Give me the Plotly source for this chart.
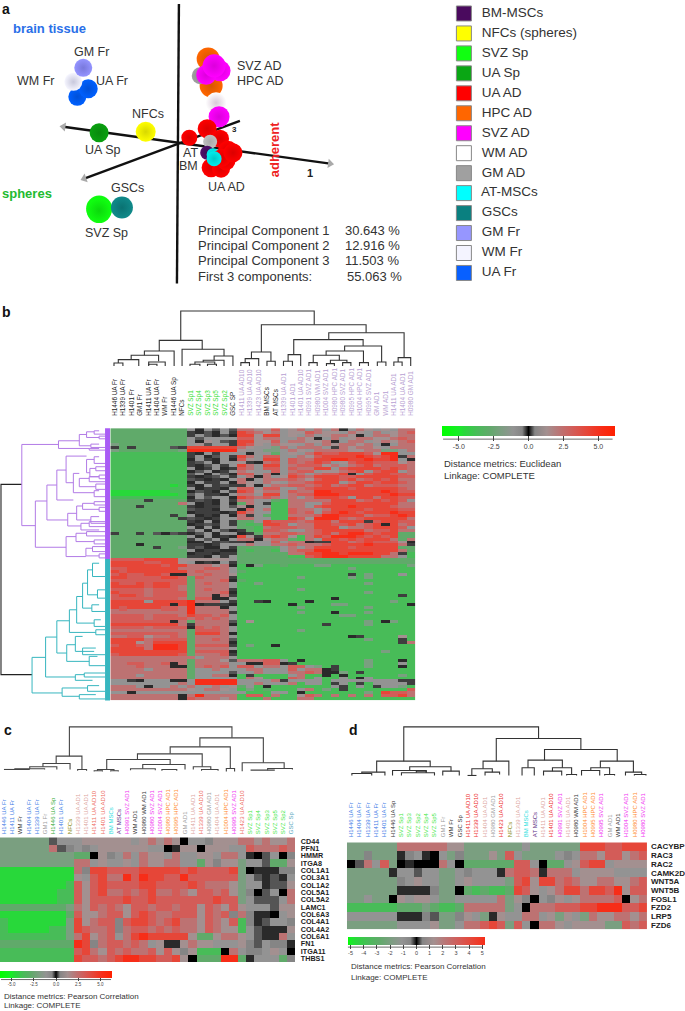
import plotly.graph_objects as go

FONT = "Liberation Sans, Arial, sans-serif"
W, H = 685, 1011

# ---------- panel a: PCA spheres ----------
pca_axis_1 = [(64, 126), (333, 163)]
pca_axis_2 = [(85, 178), (242, 120)]
pca_axis_3 = [(180.5, 3), (178.5, 283)]
sphere_x = [78, 89, 74, 84, 100, 147, 100, 100, 123,
            210, 213, 202, 222, 208, 216, 218, 221,
            191, 209, 222, 230, 213, 223, 228, 212, 209, 215, 224, 235, 216]
sphere_y = [96, 88, 81, 67, 132, 131, 208, 210, 207,
            58, 85, 75, 70, 74, 65, 102, 116,
            137, 128, 138, 150, 167, 168, 160, 141, 152, 154, 157, 152, 158]
sphere_size = [18, 19, 18, 18, 19, 20, 26, 25, 22,
               23, 23, 17, 21, 20, 23, 21, 21,
               16, 19, 18, 20, 19, 18, 19, 14, 14, 13, 18, 19, 15]
sphere_color = ["#0060ff", "#0060ff", "#f6f6ff", "#9494ff", "#0aa010", "#ffff00", "#10ff10", "#10ff10", "#108a8a",
                "#ff6600", "#ff6600", "#a0a0a0", "#ff00ff", "#ff00ff", "#ff00ff", "#ffffff", "#ff00ff",
                "#ff0000", "#ff0000", "#ff0000", "#ff0000", "#ff0000", "#ff0000", "#ff0000", "#c0c0c0", "#50106a", "#00eeee", "#ff0000", "#ff0000", "#00eeee"]
sphere_edge = ["#0050d8", "#0050d8", "#c8c8dc", "#7878dc", "#078a0c", "#d8d800", "#0cd80c", "#0cd80c", "#0a7272",
               "#d85600", "#d85600", "#888888", "#dc00dc", "#dc00dc", "#dc00dc", "#d8c8d8", "#dc00dc",
               "#dc0000", "#dc0000", "#dc0000", "#dc0000", "#dc0000", "#dc0000", "#dc0000", "#a8a8a8", "#3c0c54", "#00c8c8", "#dc0000", "#dc0000", "#00c8c8"]

legend_names = ["BM-MSCs", "NFCs (spheres)", "SVZ Sp", "UA Sp", "UA AD", "HPC AD", "SVZ AD",
                "WM AD", "GM AD", "AT-MSCs", "GSCs", "GM Fr", "WM Fr", "UA Fr"]
legend_colors = ["#4a0a5e", "#ffff00", "#11ff11", "#0aa614", "#ff0000", "#ff6600", "#ff00ff",
                 "#ffffff", "#a0a0a0", "#00ffff", "#0a8080", "#9696ff", "#f4f4ff", "#0860ff"]

pca_stat_names = ["Principal Component 1", "Principal Component 2", "Principal Component 3", "First 3 components:"]
pca_stat_values = ["30.643 %", "12.916 %", "11.503 %", "55.063 %"]

# ---------- panel b ----------
b_cols = ["H1446 UA Fr", "H1339 UA Fr", "H1401 Fr", "GM1 Fr", "H1411 UA Fr", "H1404 UA Fr", "WM Fr", "H1446 UA Sp", "NFCs",
          "SVZ Sp1", "SVZ Sp4", "SVZ Sp3", "SVZ Sp5", "SVZ Sp2", "GSC SP",
          "H1411 UA AD10", "H1339 UA AD10", "H1423 UA AD10", "BM MSCs", "AT MSCs",
          "H1339 UA AD1", "H1401 AD1", "H1401 UA AD10", "H0991 SVZ AD1", "H0980 WM AD1", "H1004 SVZ AD1",
          "H0980 HPC AD1", "H0980 SVZ AD1", "H0995 HPC AD1", "H1004 HPC AD1", "H0995 SVZ AD1", "GM AD1", "WM AD1",
          "H1411 UA AD1", "H1404 UA AD1", "H0980 GM AD1"]
LIL = "#b79fd2"
b_col_colors = ["#222222"] * 9 + ["#33e033"] * 5 + ["#333333"] + [LIL] * 3 + ["#222222"] * 2 + [LIL] * 16

# level codes, one string per heat-map row
b_rows = [
 "hhhhhhhhh .d.m. m rrp ps. pr. r.rd.rp. p. rrr",
 "hhhhhhhhh kdmd. k tsr pr. pps rpp.rp.r .p rsr",
 "hhhhhhhhh k.mdm d ttp tt. p.r .prrpd.r rp rrs",
 "hhhhhhhhh .m... . ssp rr. .rp d.r.prrp pr srr",
 "hhhhhhhhh .dp.m k ttp ps. rrp prd.rr.p rp rs.",
 "ihhhhhhhh .pm.. k tsp .rp p.r .rprrpr. d. rrp",
 "khkhhhhmk ttttt t rp. .ir .rr r.krprrp .r rrd",
 "ihhhhhhhi RRRRR R p.. ii. rp. rrrrpprr ii .rr",
 "ggggggggg kd.k. . .d. .h. p.r tsstttsp RR ..d",
 "ggggggggg k.dm. k tr. ss. .rp sttttRts tR krr",
 "ggggggggg d.kd. d sp. tt. srr ttRRttRt tR .dh",
 "ggggggggg km.d. . pkd rs. srs ts.pstts ss prr",
 "ggggggggg kdm.k . tr. tt. rss spr.rstr ss srr",
 "ggggggggg .dk.d k sr. ss. srr tt.stttt st srp",
 "ggggggggg dm.dk . rp. .s. rss .pprst.s tt .rd",
 "ggggggggg m.d.m d ss. rd. sr. rsstd.st ts sr.",
 "ggggggggg kdkm. k .rd r.p tsr tttssttt tt ssr",
 "ggggggggg mkdkd . rd. rrr srp sttstrst st rrd",
 "ggggggggg d.kk. d rp. rp. rrs ttt.rtts tt srp",
 "gggggggGg kd.km k kpd .rr ssr strsttrs ss rrr",
 "ggggggggg .dkkd . ss. ss. .rs ttttsttt tt srd",
 "GGGGGGGgg dmkd. k tsp rr. srr RRtttttt Rt sss",
 "GGGGGGGGg m.kkd . rr. tt. rss RRRttttt tR ttt",
 "ggggggggg d.m.. d tsr sr. r.r ttts.ttr tt ssr",
 "hhhhkhhhh kmkd. k rr. .hg rrr rrtttrst st s.d",
 "hhhhhhhhr .dkd. d hr. kgg rr. .stttttt tt rr.",
 "hhhkhhhhh kdkk. m pd. .gg rr. stttRttt ts rrs",
 "hhhhhhhhh mkkd. . ds. rgg srr .rttttst tt ss.",
 "hhhhhhhhh dkkkd k tr. .gg srs .stRtstt tR ttt",
 "hhhhhhhkh .dkd. d rk. hgg rrr sRRtttrs st Rtt",
 "hhhhhhhhk mkdk. . rr. .gg tsp RRRsrstt tt trt",
 "hhhhhhhhh kd.d. k hh. tss srs ttrtttks tt ssh",
 "hhhhhhhhh dkmk. k hgh tts .rr ttsstrst dt rsg",
 "hhhhhhhhh .d.d. . hhg rss srr ttt.rrst tt s.g",
 "hhhhhhhhh m.d.m d khg ssr ..r stttttrs st rrh",
 "khhkhmdmk dm.d. . dkh rrs srr strtRRts tt hhd",
 "hhhhhhhhh .d.dk d tpk sts pgr tsRRRtst st hh.",
 "hhhhhhhhh k.m.d . rrd prr hgr .ttststt tr hrk",
 "hhhhhhhhh dd.km k kd. .s. rrd kkttrsts ss pd.",
 "hhhdhhhhh kkdk. . .r. .rr srr rsttttRt tt rkh",
 "hhhhhkhhi kmdd. k hhh hh. r.r ttttsttt tt hhs",
 "hhhhhhhhh .dkkd d hgh hg. rss RRtttttt tt rhr",
 "hhhhhhhhh dkkdk k hhh hhh rrt tRRtRRRt tr kgr",
 "hhhhhhhhh kkd.k . hhh hhh ggs tRRRtttt rr .gr",
 "ssssttttp ppppp . hhh hhh hhh hhhhhhhh hh hhh",
 "ttttssttp .dkd. k hhh hhh hhh hhhhhhhh hh hhh",
 "ttttttstt rrrpr d gdi ggh ggg iigggggg gg gig",
 "ssttttttr rrssr . ggg ggg ggg ggggiggg gg ggg",
 "tsttttttt rsrrr . hgg ggg ggg gggggggg gg ggg",
 "stssttsdd rrsrr p ggg ggg ggg ggggkgig gg .gi",
 "ttsssstts hsrrr k ggg ggg gig ggggigig gg ggg",
 "sssssssss hrrrs d hgg ggg ggg gggggggg gg ggg",
 "tsststtss hrsrr . ggi ggg ggg ggggggig gg ggg",
 "ttttsttsr hrrrr . ggg ggg ggg gggggggg gg ggg",
 "ssssrsssr hrsrr k ggg ggg gig gggggggg gg ggg",
 "tsssrssss hrrrs d ggg ggg ggg ggggggig gg ggg",
 "sttsrssss hrrdr k ggg ggg ggg gggggggg gg kgd",
 "ssssssssr hssdd . ggg ggg ggg ggdggggg gg ggd",
 "tttt.tttt Rrrr. k ggk dgg ggd gggggggg gi ggg",
 "tttttttdt Rdkkk d ggg ggg dgg ggiigggg gg gdg",
 "tsttttssr Rrrrd . ggg ggg gig ggggggig gg ggg",
 "rsrrrrssr Rrrrr . ggg ggg ggg gggggggg gg ggg",
 "rrrrrrrrr Rrrrr k ggg ggg gig ggdgggig gg ggg",
 "ssssrsssr tssrs . ggg ggg ggg gggiiggg gg ggg",
 "ssssrssss rsrsr . ggg ggg ggg gggggggg gg ggg",
 "sssssssdr hrrrr m gpg ggg ggg ggggggig di ggg",
 "ttttttttr krrrr d ggg ggg ggg gkggggig gg ggg",
 "ssssrssss dsrsr . ggg ggg ggg gggggggg gg ggg",
 "rrrrrrrrr hsssr . ggg ggg gig gggggggg gg ggg",
 "ssssssssr htttr d ggg ggg ggg gggggggg gg ggg",
 "rrssprrsr hrrrr . ggg ggg ggg ggggdkgg gg pgg",
 "ttttrssss hrrsr m ggg ggg ggg ggggggig gg kgg",
 "tttprtttt hrrrr d ggg ggg ggg gggggggg gg krr",
 "sttsrRRRt hssss k gig gdg ggg gggggggg gg ggg",
 "ttttrRRRt hrrrr . ggg ggg ggg gggggggg gg ggg",
 "ttttttttt hssss d ggg ggg ggg gggggggg ig ggg",
 "sttttttts hrrrs k ggg ggg ggg gggggggg gg ggi",
 "rrrrrrrrr r.rrr . ggg ggg ggg gggggggg gg ggg",
 "rrrrrrrrr hrrrp m rrr ss. gdg ggggggig gg dgg",
 "rrssrrsdr hrrrr . .dd ssd kgg ggggggig gg .gg",
 "rrrsrrrdd hrsrs . ss. rr. ss. igkgggig gg dgg",
 "rrrr.rrrr h..r. . .rr ... s.r rdkggggg gg ggg",
 "rrrrrrrrr h.... m ..r ... rrs rddigkgg gg ggg",
 "rrr.rrrrr h..rr d gkg ggg .rg gdgdgggg gg igg",
 "rrrrrrrrr h.... . grp ggg srg .gg.gd.g gg ggg",
 "..kd...dd .RRRR R ... .rk ... .g...... .. kk.",
 "........r .RRRR R ..r ... rg. .gk.gkg. .. .kd",
 "rrr.d..r. r..r. p h.g dgg ggg gg.kg.gk .. igr",
 "rrrrrrrrr p.rrp . gig hgg g.r gigkgggg gg gsg",
 "..d...... ..... . .gg g.. gdg ggggggig ts srp",
 "rrrrrrrrd rRrrr r gss grg gps rgrgrgrg ss trr",
 "rrrrrrrrd srrrp r ggg rgg grr gggggggg gg ggg",
]

# ---------- panel c ----------
c_cols = ["H1446 UA Fr", "H1411 UA Fr", "WM Fr", "H1404 UA Fr", "H1339 UA Fr", "GM1 Fr", "H1446 UA Sp", "H1401 UA Fr", "NFCs",
          "H1339 UA AD1", "H1401 UA AD1", "H1411 UA AD10", "H1401 UA AD10", "BM MSCs", "AT MSCs",
          "H0991 SVZ AD1", "WM AD1", "H0980 WM AD1", "H0980 SVZ AD1", "H1004 SVZ AD1", "H0980 HPC AD1", "H0995 HPC AD1",
          "GM AD1", "H1411 UA AD1", "H1339 UA AD10", "H0980 GM AD1", "H1404 UA AD1", "H1004 HPC AD1", "H0995 SVZ AD1", "H1423 UA AD10",
          "SVZ Sp1", "SVZ Sp4", "SVZ Sp3", "SVZ Sp5", "SVZ Sp2", "GSC Sp"]
BLU, BLK, GRY, GRN, OLV = "#3d7be6", "#333333", "#a0a0a0", "#33aa33", "#8a8a10"
SAL, COR, CYA, PUR, MAG, ORG, LGN, TEL = "#dda79f", "#ee6a60", "#2fe0e0", "#5a2a80", "#f030f0", "#ff8c30", "#44e844", "#5aa8c0"
c_col_colors = [BLU, BLU, BLK, BLU, BLU, GRY, GRN, BLU, OLV, SAL, SAL, COR, COR, CYA, PUR, MAG, BLK, BLK, MAG, MAG, ORG, ORG,
                GRY, SAL, COR, GRY, SAL, ORG, MAG, COR, LGN, LGN, LGN, LGN, LGN, TEL]
c_genes = ["CD44", "PFN1", "HMMR", "ITGA8", "COL1A1", "COL3A1", "COL1A2", "COL5A1", "COL5A2", "LAMC1",
           "COL6A3", "COL4A1", "COL4A2", "COL6A1", "FN1", "ITGA11", "THBS1"]
c_rows = [
 "iiiiiim.. .pppppp.prprpk..npppr rprppr",
 "iiiiiirmn .n.pppppp..kdppkppp.. srrrsr",
 "iiiiiiiii hhkpn.r.rpp.r..pp.rr. dkm.kn",
 "iiiiiiiii rr.p..p.rpprr..hpnppi ..mhhp",
 "GGGGGGGGG rnttsssstttttstssssti kdddnn",
 "GGGGGGGGG p.strrRsRttssRssssssi .mdmd.",
 "GGGGGGGGg spstssssttsssstsrrrpi ..dmmp",
 "GGGGGGGgg spstrrsrstrrsrpssrspi nkm.kr",
 "GGGGGGGgg spsssstsstssssssstssi .mmm.r",
 "hhhhhhhhi rpsrsrpssrssrsspsrpsp ...mpp",
 "GGGGGGGGh spprsspstsrrssspsrsnr nddk.p",
 "gGGGGGGGi tprssnsttsrstrrpsrpsg ndm..n",
 "gGGGGGggi tsrrsnrssrsrsrrpsrppg .mdddp",
 "ggggggggi rtprs.rtRtttttphhprrp .mddr.",
 "hhhhhhhhh Rtnrssrsr.pddprpp...p nm.nnd",
 "ggggggggg strpsrsrrspspnpgggkr. nn.p.k",
 "ggggggggg tssrstRRttsstpkhhhRRh d...hn",
]

# ---------- panel d ----------
d_cols = ["H1446 UA Fr", "H1404 UA Fr", "H1339 UA Fr", "H1411 UA Fr", "H1401 UA Fr", "H1446 UA Sp",
          "SVZ Sp1", "SVZ Sp3", "SVZ Sp2", "SVZ Sp4", "SVZ Sp5", "GM1 Fr", "WM Fr", "GSC Sp",
          "H1411 UA AD10", "H1339 UA AD10", "H1404 UA AD1", "H0980 GM AD1", "H1423 UA AD10", "NFCs",
          "H1339 UA AD1", "BM MSCs", "AT MSCs", "H1411 UA AD1", "H1401 UA AD10", "H0991 SVZ AD1", "H1401 UA AD1", "H0980 WM AD1",
          "H1004 HPC AD1", "H0995 HPC AD1", "H0995 SVZ AD1", "GM AD1", "WM AD1", "H1004 SVZ AD1", "H0980 HPC AD1", "H0980 SVZ AD1"]
d_col_colors = [BLU] * 5 + [BLK] + [LGN] * 5 + [GRY, BLK, BLK, "#ee2a2a", "#ee2a2a", SAL, GRY, "#ee2a2a", OLV,
                SAL, CYA, PUR, SAL, "#ee2a2a", MAG, SAL, BLK, ORG, ORG, MAG, GRY, BLK, MAG, ORG, MAG]
d_genes = ["CACYBP", "RAC3", "RAC2", "CAMK2D", "WNT5A", "WNT5B", "FOSL1", "FZD2", "LRP5", "FZD6"]
d_rows = [
 "iiiiii rrrrr rpp iiiiii i.iiiiii tttsstt t",
 "iiniii dn.dk .in iiipis .iiii.n. rrpssprs",
 "kmr.si kdkkk r.k hhhhhh ss.khh.p stt.pppp",
 "iiiiid ..m.. ii. n...dr ssrdrrr. pppp....",
 "iiiiii n.p.. ii. p....i stpttrsr pprrpprs",
 "iiiiii ddddn iik hghggh tsp.prtt rttsRpss",
 "ii.iik p.pp. ii. ....ri pnk.np.p rrrrskpr",
 "gggggg hhhih ggh rrrrri .krrrsss ttRRRsst",
 "...... dddnm iin p.idp. .rr.pip. irpprrpr",
 "iiiiii ....p ii. rrstsi s.krrp.p pppiisrs",
]

# ---------- dendrograms: units of 1/3 px in the crops ----------
# top-style: (x_left, x_right, y_bar, y_left_end, y_right_end)
b_top_links = [
 (547,951,32,120,73),(482,612,120,152,147),(437,527,152,165,197),(397,480,165,178,183),(358,420,178,188,197),(345,372,188,197,197),
 (450,500,185,195,197),(450,475,192,197,197),(551,678,147,197,167),(648,705,167,180,197),(615,678,180,185,197),(590,650,185,192,192),
 (575,605,192,197,197),(628,655,192,197,197),(791,1108,73,155,97),(761,820,155,175,183),(742,783,175,187,197),(729,755,187,197,197),
 (808,833,183,197,197),(995,1223,97,118,170),(889,1099,118,163,137),(872,910,163,183,197),(858,885,183,197,197),(1043,1155,137,152,185),
 (1142,1168,185,197,197),(987,1100,152,165,187),(1088,1115,187,197,197),(948,1027,165,187,180),(935,960,187,197,197),(1000,1050,180,190,187),
 (988,1012,190,197,197),(1037,1062,187,197,197),(1205,1243,172,185,197),(1192,1217,185,197,197),
]
c_top_links = [
 (210,702,112,200,145),(170,248,200,222,240),(130,212,222,232,240),(90,172,232,238,240),(45,135,238,240,240),(12,90,240,240,240),
 (235,262,240,244,244),(605,797,145,172,220),(515,697,172,193,237),(416,612,193,210,232),(323,515,210,240,225),(295,345,240,244,244),
 (285,310,244,246,246),(335,358,244,246,246),(432,560,225,238,240),(395,470,238,242,242),(490,535,240,244,244),(585,638,232,240,240),
 (685,710,237,246,246),(733,860,220,245,237),(810,885,237,242,240),(760,830,242,244,244),(610,660,240,244,244),
]
d_top_links = [
 (202,610,112,215,147),(120,282,215,248,232),(75,145,248,252,258),(45,105,252,258,258),(220,345,232,243,245),(168,270,243,258,250),
 (195,295,250,258,258),(240,270,245,250,250),(320,370,245,258,258),(482,738,147,215,180),(442,520,215,238,258),(408,470,238,258,248),
 (395,422,258,258,258),(448,492,248,258,255),(628,848,180,212,215),(578,682,212,235,235),(560,597,235,258,258),(652,710,235,245,255),
 (625,680,245,258,258),(695,725,255,258,258),(797,897,215,235,248),(768,825,235,243,255),(740,795,243,258,258),(810,840,255,258,258),
 (873,922,248,258,255),(900,935,255,258,258),
]
# side-style: (x_stem, y_top, y_bottom, x_top_end, x_bottom_end)
b_root_links = [(3,553,1125,66,97)]
b_purple_links = [
 (66,433,677,177,107),(177,422,445,240,270),(240,403,437,262,275),(262,395,412,285,300),(285,392,402,300,318),(300,408,416,318,318),
 (275,432,442,300,318),(270,445,450,300,318),(107,603,742,142,200),(142,555,660,172,205),(172,510,600,200,222),(200,468,548,262,222),
 (262,478,518,285,272),(285,470,490,300,318),(272,505,530,290,300),(290,500,512,318,318),(300,525,536,318,318),(222,520,578,240,285),
 (240,535,560,270,290),(270,530,545,300,318),(290,552,568,318,318),(285,572,590,300,318),(205,640,678,232,245),(232,618,660,250,275),
 (250,610,628,285,300),(285,605,615,318,318),(300,622,634,318,318),(275,650,670,300,318),(245,670,690,270,300),(270,665,680,318,318),
 (200,710,770,230,260),(230,700,725,262,285),(262,695,708,318,318),(285,720,732,318,318),(260,745,768,280,300),(280,740,755,318,318),(300,762,774,318,318),
]
b_teal_links = [
 (97,1073,1180,138,188),(138,1012,1132,172,228),(172,963,1060,210,202),(210,930,998,232,290),(232,890,970,250,285),(250,850,925,265,278),
 (265,810,885,280,295),(280,790,830,300,318),(295,870,895,318,318),(278,915,935,300,318),(285,960,980,305,318),(290,990,1005,318,318),
 (202,1035,1085,228,270),(228,1010,1055,250,285),(250,1045,1065,290,318),(270,1070,1098,295,318),(228,1125,1142,255,280),(255,1120,1132,318,318),
 (188,1165,1190,265,240),(265,1158,1175,300,318),(240,1185,1198,290,318),
]

# ---------- colour scale ----------
level_values = {"G": -4.6, "g": -3.7, "h": -2.8, "i": -2.0, ".": -1.1, "k": 0, "d": 0.13, "m": 0.28, "n": 0.45,
                "p": 1.3, "r": 2.3, "s": 3.2, "t": 4.2, "R": 5.2}
scale_stops = [(-6.3, "#00ff00"), (-5, "#18ec28"), (-4.6, "#28d83a"), (-3.7, "#48bc58"), (-2.8, "#60aa6a"), (-2, "#7a9f80"), (-1.1, "#939393"),
               (-0.45, "#858585"), (-0.15, "#303030"), (0, "#000000"), (0.15, "#303030"), (0.45, "#858585"), (1.3, "#a39090"),
               (2.3, "#bd7272"), (3.2, "#d35c58"), (4.2, "#e64638"), (5.2, "#f72d18"), (6.3, "#ff2000")]


def colorscale(lo, hi):
    out = [[max(0.0, min(1.0, (v - lo) / (hi - lo))), c] for v, c in scale_stops if lo <= v <= hi]
    if out[0][0] > 0:
        out.insert(0, [0.0, scale_stops[0][1]])
    if out[-1][0] < 1:
        out.append([1.0, scale_stops[-1][1]])
    return out


def decode(rows, soft=False):
    out = []
    for r in rows:
        r = r.replace(" ", "")
        r = (r + r[-1] * 36)[:36]
        row = [level_values[c] for c in r]
        if soft:
            row = [0.2 if v == 0 else v for v in row]
        out.append(row)
    return out


def top_path(links, ox, oy):
    xs, ys = [], []
    for x0, x1, yb, y0, y1 in links:
        xs += [x0 / 3 + ox, x0 / 3 + ox, x1 / 3 + ox, x1 / 3 + ox, None]
        ys += [y0 / 3 + oy, yb / 3 + oy, yb / 3 + oy, y1 / 3 + oy, None]
    return xs, ys


def side_path(links, ox, oy):
    xs, ys = [], []
    for xs_, y0, y1, x0, x1 in links:
        xs += [x0 / 3 + ox, xs_ / 3 + ox, xs_ / 3 + ox, x1 / 3 + ox, None]
        ys += [y0 / 3 + oy, y0 / 3 + oy, y1 / 3 + oy, y1 / 3 + oy, None]
    return xs, ys


fig = go.Figure()


def line(xs, ys, color, width):
    fig.add_trace(go.Scatter(x=xs, y=ys, mode="lines", line=dict(color=color, width=width), hoverinfo="skip", showlegend=False))


for ax_ in (pca_axis_1, pca_axis_2, pca_axis_3):
    line([p[0] for p in ax_], [p[1] for p in ax_], "#111111", 2.4)
fig.add_trace(go.Scatter(x=[64, 333, 85], y=[126, 163, 178], mode="markers", showlegend=False, hoverinfo="skip",
                         marker=dict(symbol="triangle-up", size=8, color="#aaaaaa", angle=[278, 98, 250], opacity=1)))
fig.add_trace(go.Scatter(x=sphere_x, y=sphere_y, mode="markers", showlegend=False, hoverinfo="skip",
                         marker=dict(size=sphere_size, color=sphere_color, line=dict(width=0), opacity=1,
                                     gradient=dict(type="radial", color=sphere_edge))))
legend_y = [12.5 + 20 * i for i in range(len(legend_names))]
fig.add_trace(go.Scatter(x=[468] * len(legend_names), y=legend_y, mode="markers+text", showlegend=False, hoverinfo="skip",
                         text=["  " + n for n in legend_names], textposition="middle right",
                         textfont=dict(size=13.5, family=FONT, color="#333333"),
                         marker=dict(symbol="square", size=15, color=legend_colors, line=dict(color="#888888", width=1))))

x, y = top_path(b_top_links, 0, 300); line(x, y, "#333333", 1.1)
x, y = top_path(c_top_links, 0, 690); line(x, y, "#444444", 1.1)
x, y = top_path(d_top_links, 340, 690); line(x, y, "#333333", 1.1)
x, y = side_path(b_root_links, 0, 300); line(x, y, "#222222", 1.1)
x, y = side_path(b_purple_links, 0, 300); line(x, y, "#b27be6", 1)
x, y = side_path(b_teal_links, 0, 300); line(x, y, "#37b6bf", 1)
line([108.5, 108.5], [428, 559], "#a95cf5", 5)
line([108.5, 108.5], [559, 701], "#37b6bf", 5)
line([447, 618], [439, 439], "#444444", 0.8)
line([1, 112], [980.5, 980.5], "#444444", 0.8)
line([351, 487], [948, 948], "#444444", 0.8)


def colored(labels, colors):
    return [f'<span style="color:{c}">{t}</span>' for t, c in zip(labels, colors)]


def heat(idx, rows, cols, colors, box, tfs, standoff, lo, hi, bar, genes=None, gene_fs=8, gene_gap=1, soft=False):
    x0, x1, y0, y1 = box
    z = decode(rows, soft)
    ax = f"x{idx}", f"y{idx}"
    bx, by, blen, bth, tv, tt, tfsz, tl = bar
    fig.add_trace(go.Heatmap(z=z, x=list(range(36)), y=list(range(len(z))), xaxis=ax[0], yaxis=ax[1], zmin=lo, zmax=hi,
                             colorscale=colorscale(lo, hi), hoverinfo="skip", xgap=0, ygap=0,
                             colorbar=dict(orientation="h", thicknessmode="pixels", thickness=bth, lenmode="pixels", len=blen,
                                           x=bx / W, xanchor="left", y=1 - by / H, yanchor="top", xpad=0, ypad=0,
                                           outlinewidth=0, tickvals=tv, ticktext=tt, ticks="outside", ticklen=tl,
                                           tickcolor="#444444", tickfont=dict(size=tfsz, family=FONT, color="#444444"))))
    fig.layout[f"xaxis{idx}"] = dict(domain=[x0 / W, x1 / W], anchor=ax[1], range=[-0.5, 35.5], side="top", tickmode="array",
                                     tickvals=list(range(36)), ticktext=colored(cols, colors), tickangle=-90,
                                     tickfont=dict(size=tfs, family=FONT), ticks="outside", ticklen=standoff,
                                     tickcolor="rgba(0,0,0,0)", showgrid=False, zeroline=False, showline=False)
    yax = dict(domain=[1 - y1 / H, 1 - y0 / H], anchor=ax[0], range=[len(z) - 0.5, -0.5], showgrid=False, zeroline=False,
               showline=False, ticks="", showticklabels=False)
    if genes:
        yax.update(side="right", showticklabels=True, tickmode="array", tickvals=list(range(len(genes))),
                   ticks="outside", ticklen=gene_gap, tickcolor="rgba(0,0,0,0)",
                   ticktext=[f"<b>{g}</b>" for g in genes], tickfont=dict(size=gene_fs, family=FONT, color="#222222"))
    fig.layout[f"yaxis{idx}"] = yax


heat(2, b_rows, b_cols, b_col_colors, (111.3, 419, 428, 701), 6.4, 10, -6.2, 6.2,
     (446, 425.5, 173, 9.5, [-5, -2.5, 0, 2.5, 5], ["-5.0", "-2.5", "0.0", "2.5", "5.0"], 7, 5), soft=True)
heat(3, c_rows, c_cols, c_col_colors, (0, 298, 838, 963), 6, 1, -6.3, 6.3,
     (0, 972, 112, 7, [-5, -2.5, 0, 2.5, 5], ["-5.0", "-2.5", "0.0", "2.5", "5.0"], 4.5, 3), c_genes, 7.2, 3)
heat(4, d_rows, d_cols, d_col_colors, (350, 653, 843, 930), 6, 3, -5.2, 5.2,
     (351, 937.5, 137, 8, [-5, -4, -3, -2, -1, 0, 1, 2, 3, 4, 5], [str(v) for v in range(-5, 6)], 5.5, 4), d_genes, 8, 1)

notes = []


def txt(x, y, s, size=12, color="#333333", anchor="left", angle=0):
    notes.append(dict(x=x, y=y, xref="x", yref="y", text=s, showarrow=False, xanchor=anchor, yanchor="middle", textangle=angle,
                      font=dict(size=size, family=FONT, color=color)))


for (lx, ly, s) in [(0, 8, "a"), (0, 312, "b"), (2, 730, "c"), (350, 730, "d")]:
    txt(lx, ly, f"<b>{s}</b>", 14, "#111111")
txt(11, 28, "<b>brain tissue</b>", 13, "#2a6fe8")
txt(0, 193, "<b>spheres</b>", 13, "#22bb30")
txt(277, 149, "<b>adherent</b>", 13, "#ee2222", "center", -90)
for (lx, ly, s, a) in [(92, 51, "GM Fr", "center"), (15, 80, "WM Fr", "left"), (95, 80, "UA Fr", "left"), (149, 113, "NFCs", "center"),
                       (103, 149, "UA Sp", "center"), (192, 152, "AT", "center"), (190, 165, "BM", "center"), (228, 186, "UA AD", "center"),
                       (129, 187, "GSCs", "center"), (107, 232, "SVZ Sp", "center"), (237, 65, "SVZ AD", "left"), (237, 80, "HPC AD", "left")]:
    txt(lx, ly, s, 12.5, "#333333", a)
txt(313, 172, "<b>1</b>", 11, "#222222", "center")
txt(237, 129, "<b>3</b>", 8, "#222222", "center")
for i, yy in enumerate([229.5, 245, 260.5, 276]):
    txt(198, yy, pca_stat_names[i], 13)
    txt(346 if i < 3 else 348, yy, pca_stat_values[i], 13)
txt(446, 463, "Distance metrics: Euclidean", 9.5)
txt(446, 475, "Linkage: COMPLETE", 9.5)
txt(2, 997, "Distance metrics: Pearson Correlation", 8)
txt(2, 1006, "Linkage: COMPLETE", 8)
txt(352, 967, "Distance metrics: Pearson Correlation", 8)
txt(352, 978, "Linkage: COMPLETE", 8)

fig.update_layout(width=W, height=H, margin=dict(l=0, r=0, t=0, b=0), paper_bgcolor="white", plot_bgcolor="white",
                  showlegend=False, annotations=notes,
                  xaxis=dict(domain=[0, 1], range=[0, W], visible=False, fixedrange=True),
                  yaxis=dict(domain=[0, 1], range=[H, 0], visible=False, fixedrange=True))
fig.write_html("out.html", config={"displayModeBar": False}, post_script="document.body.style.margin='0';")
